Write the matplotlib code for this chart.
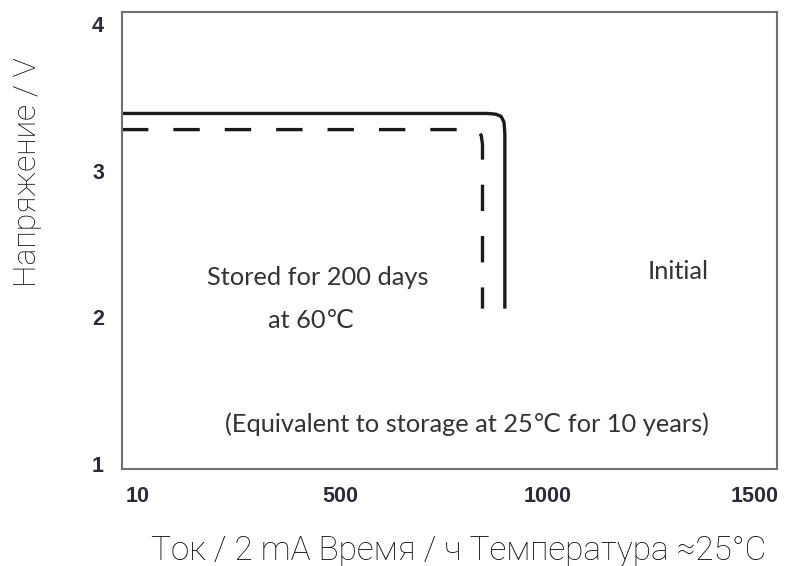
import numpy as np
import matplotlib
matplotlib.use("Agg")
from matplotlib import pyplot as plt

# --- data ---
x_ticks = [10, 500, 1000, 1500]
y_ticks = [1, 2, 3, 4]

# Initial (solid) discharge curve: time / h, voltage / V
t_initial = [-28, 855, 875, 888, 895, 897, 897]
v_initial = [3.39, 3.39, 3.385, 3.37, 3.33, 3.25, 2.06]

# after storage for 200 days at 60C (dashed)
t_stored = [-28, 820, 833, 840, 843, 843]
v_stored = [3.28, 3.28, 3.27, 3.24, 3.18, 2.06]

TXT_COLOR = '#333333'
LINE_COLOR = '#1a1a1a'

plt.rcParams['lines.scale_dashes'] = False

fig = plt.figure(figsize=(7.87, 5.66), dpi=100)
ax = fig.add_axes([0.155, 0.171, 0.832, 0.808])

ax.plot(t_initial, v_initial, color=LINE_COLOR, lw=2.4, solid_capstyle='butt',
        solid_joinstyle='round')
ax.plot(t_stored, v_stored, color=LINE_COLOR, lw=2.4, ls=(0, (19, 18)),
        dash_capstyle='butt')

ax.set_xlim(-28, 1554)
ax.set_ylim(0.966, 4.082)

tick_font = dict(family=['Liberation Sans', 'DejaVu Sans'], fontweight='bold')
ax.set_xticks(x_ticks)
ax.set_xticklabels([str(v) for v in x_ticks], **tick_font)
ax.set_yticks(y_ticks)
ax.set_yticklabels([str(v) for v in y_ticks], **tick_font)
ax.tick_params(length=0, labelcolor='#2b2b3a', labelsize=15.5)
ax.tick_params(axis='x', pad=12)
ax.tick_params(axis='y', pad=13)

for sp in ax.spines.values():
    sp.set_color('#707070')
    sp.set_linewidth(1.5)

ax.set_xlabel('Ток / 2 mA Время / ч Температура ≈25°C', fontsize=24,
              family=['Roboto', 'DejaVu Sans'], fontweight='light',
              color='#111111')
ax.xaxis.set_label_coords(0.5145, -0.144)
ax.set_ylabel('Напряжение / V', fontsize=23,
              family=['Roboto', 'DejaVu Sans'], fontweight='light',
              color='#111111')
ax.yaxis.set_label_coords(-0.122, 0.65)

fam = ['Lato', 'DejaVu Sans']
ax.text(445, 2.275, 'Stored for 200 days', ha='center', va='center',
        fontsize=18.3, family=fam, color=TXT_COLOR)
ax.text(430, 1.98, 'at 60℃', ha='center', va='center',
        fontsize=18.3, family=fam, color=TXT_COLOR)
ax.text(1317, 2.31, 'Initial', ha='center', va='center',
        fontsize=18.3, family=fam, color=TXT_COLOR)
ax.text(805, 1.27, '(Equivalent to storage at 25℃ for 10 years)',
        ha='center', va='center', fontsize=18.3, family=fam, color=TXT_COLOR)

fig.savefig('out.png', dpi=100)
